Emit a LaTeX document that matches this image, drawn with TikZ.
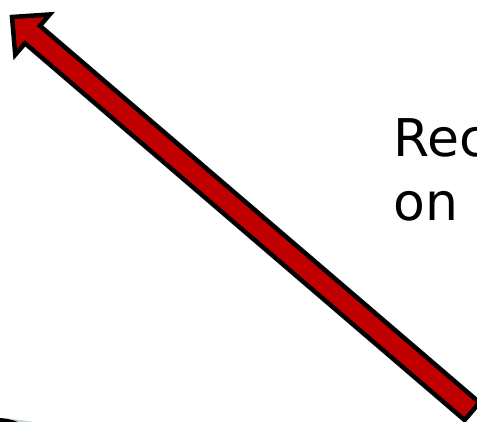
\documentclass[tikz,border=0pt]{standalone}
\usepackage{fontspec}
\setmainfont{DejaVu Sans}
\definecolor{arrowred}{RGB}{192,0,0}
\definecolor{paleblue}{RGB}{190,215,225}
\begin{document}
\begin{tikzpicture}[x=1pt,y=1pt,
  bigarrow/.style={draw=black,line width=4.5pt,fill=arrowred,line join=miter,miter limit=10},
  bigtext/.style={font=\fontsize{52}{62}\selectfont,anchor=base west,inner sep=0pt}]
\useasboundingbox (0,0) rectangle (477,-422);
\fill[white] (0,0) rectangle (477,-422);
% arrow
\begin{scope}[shift={(12,-17)},rotate=-40.6]
  \draw[bigarrow] (0,0) coordinate (tip) -- (27,26.5) -- (27,11.5) -- (606,11.5) -- (606,-11.5) -- (27,-11.5) -- (27,-26.5) -- cycle;
\end{scope}
% text
\node[bigtext] (t1) at (393,-157) {Rec};
\node[bigtext] (t2) at (393,-221) {on};
% sliver at bottom left
\fill[paleblue] (0,-418) .. controls (12,-418.5) and (22,-420) .. (32,-422) -- (0,-422) -- cycle;
\fill[black] (0,-418) .. controls (6,-418.5) and (12,-419.5) .. (18,-422) -- (0,-422) -- cycle;
\end{tikzpicture}
\end{document}
